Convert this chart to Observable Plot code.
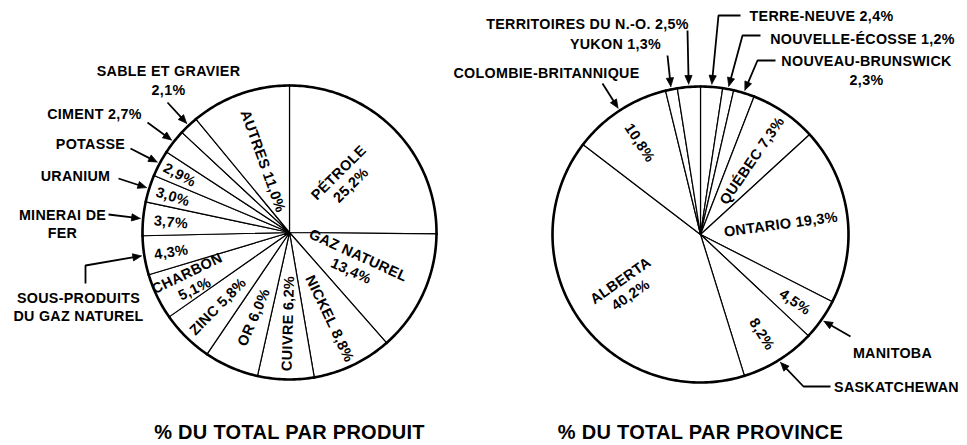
<!DOCTYPE html>
<html>
<head>
<meta charset="utf-8">
<script src="https://cdn.jsdelivr.net/npm/d3@7"></script>
<script src="https://cdn.jsdelivr.net/npm/@observablehq/plot@0.6"></script>
<style>
  html, body { margin: 0; padding: 0; background: #fff; }
</style>
</head>
<body>
<div id="chart"></div>
<script>
// ---------------- DATA ----------------
const produits = ["PÉTROLE", "GAZ NATUREL", "NICKEL", "CUIVRE", "OR", "ZINC", "CHARBON",
  "SOUS-PRODUITS DU GAZ NATUREL", "MINERAI DE FER", "URANIUM", "POTASSE", "CIMENT",
  "SABLE ET GRAVIER", "AUTRES"];
const produitValues = [25.2, 13.4, 8.8, 6.2, 6.0, 5.8, 5.1, 4.3, 3.7, 3.0, 2.9, 2.7, 2.1, 11.0];

const provinces = ["TERRE-NEUVE", "NOUVELLE-ÉCOSSE", "NOUVEAU-BRUNSWICK", "QUÉBEC", "ONTARIO",
  "MANITOBA", "SASKATCHEWAN", "ALBERTA", "COLOMBIE-BRITANNIQUE", "YUKON", "TERRITOIRES DU N.-O."];
const provinceValues = [2.4, 1.2, 2.3, 7.3, 19.3, 4.5, 8.2, 40.2, 10.8, 1.3, 2.5];

const titles = ["% DU TOTAL PAR PRODUIT", "% DU TOTAL PAR PROVINCE"];

// ---------------- LAYOUT ----------------
const W = 967, H = 445;
const pies = [
  {key: "produit", cx: 289, cy: 232, R: 147, names: produits, values: produitValues, title: titles[0]},
  {key: "province", cx: 700, cy: 234, R: 148, names: provinces, values: provinceValues, title: titles[1]}
];

// label templates: {v} -> formatted value; inner r = radial distance of label
const labelLayout = {
  produit: {
    "PÉTROLE": {inner: "PÉTROLE\n{v}", r: 77},
    "GAZ NATUREL": {inner: "GAZ NATUREL\n{v}", r: 72},
    "NICKEL": {inner: "NICKEL {v}", r: 95},
    "CUIVRE": {inner: "CUIVRE {v}", r: 91},
    "OR": {inner: "OR {v}", r: 92},
    "ZINC": {inner: "ZINC {v}", r: 103},
    "CHARBON": {inner: "CHARBON\n{v}", r: 110},
    "SOUS-PRODUITS DU GAZ NATUREL": {inner: "{v}", r: 120, outer: "SOUS-PRODUITS\nDU GAZ NATUREL", at: [78, 305.5], via: [[85, 283], [85, 265]]},
    "MINERAI DE FER": {inner: "{v}", r: 119, outer: "MINERAI DE\nFER", at: [62, 222.5], via: [[108, 214]]},
    "URANIUM": {inner: "{v}", r: 122, outer: "URANIUM", at: [75, 175], via: [[118, 178]]},
    "POTASSE": {inner: "{v}", r: 124, outer: "POTASSE", at: [90, 143], via: [[130, 148]]},
    "CIMENT": {outer: "CIMENT {v}", at: [94, 113], via: [[147, 122]]},
    "SABLE ET GRAVIER": {outer: "SABLE ET GRAVIER\n{v}", at: [168, 79], via: [[167, 102]]},
    "AUTRES": {inner: "AUTRES {v}", r: 76}
  },
  province: {
    "TERRE-NEUVE": {outer: "TERRE-NEUVE {v}", at: [821, 15], via: [[740, 15], [718, 15]]},
    "NOUVELLE-ÉCOSSE": {outer: "NOUVELLE-ÉCOSSE {v}", at: [862, 38], via: [[760, 35], [742, 35]]},
    "NOUVEAU-BRUNSWICK": {outer: "NOUVEAU-BRUNSWICK\n{v}", at: [866, 69], via: [[775, 60], [757, 60]]},
    "QUÉBEC": {inner: "QUÉBEC {v}", r: 90},
    "ONTARIO": {inner: "ONTARIO {v}", r: 81},
    "MANITOBA": {inner: "{v}", r: 116, outer: "MANITOBA", at: [892, 352], via: [[850, 336]]},
    "SASKATCHEWAN": {inner: "{v}", r: 117, outer: "SASKATCHEWAN", at: [896, 386], via: [[830, 386], [803, 386]]},
    "ALBERTA": {inner: "ALBERTA\n{v}", r: 92},
    "COLOMBIE-BRITANNIQUE": {inner: "{v}", r: 110, outer: "COLOMBIE-BRITANNIQUE", at: [546, 72], via: [[602, 83]]},
    "YUKON": {outer: "YUKON {v}", at: [615, 43], via: [[667, 55]]},
    "TERRITOIRES DU N.-O.": {outer: "TERRITOIRES DU N.-O. {v}", at: [587, 23], via: [[687, 30]]}
  }
};

// ---------------- GEOMETRY FROM DATA ----------------
const fmt = v => v.toFixed(1).replace(".", ",") + "%";
const rad = a => a * Math.PI / 180;
const pt = (p, a, r) => [p.cx + r * Math.sin(rad(a)), p.cy - r * Math.cos(rad(a))];

const slicePts = [], rimPts = [], inner = [], outer = [], connPts = [], headPts = [];

pies.forEach(p => {
  const total = d3.sum(p.values);
  let acc = 0;
  p.names.forEach((name, i) => {
    const a0 = acc / total * 360;
    acc += p.values[i];
    const a1 = acc / total * 360;
    const mid = (a0 + a1) / 2;
    const id = p.key + ":" + name;
    // slice polygon
    const [cx, cy] = [p.cx, p.cy];
    slicePts.push({id, x: cx, y: cy});
    const n = Math.max(2, Math.ceil(a1 - a0));
    for (let k = 0; k <= n; k++) {
      const [x, y] = pt(p, a0 + (a1 - a0) * k / n, p.R);
      slicePts.push({id, x, y});
      rimPts.push({id, x, y});
    }
    slicePts.push({id, x: cx, y: cy});

    const L = labelLayout[p.key][name] || {};
    const v = fmt(p.values[i]);
    if (L.inner) {
      const [x, y] = pt(p, mid, L.r);
      inner.push({x, y, text: L.inner.replace("{v}", v), rotate: mid < 180 ? mid - 90 : mid - 270});
    }
    if (L.outer) {
      outer.push({x: L.at[0], y: L.at[1], text: L.outer.replace("{v}", v)});
      const tip = pt(p, mid, p.R + 3);
      const last = L.via[L.via.length - 1];
      let dx = tip[0] - last[0], dy = tip[1] - last[1];
      const len = Math.hypot(dx, dy); dx /= len; dy /= len;
      const hl = 8.5, hw = 3.6;
      const base = [tip[0] - dx * hl, tip[1] - dy * hl];
      L.via.forEach(([x, y]) => connPts.push({id, x, y}));
      connPts.push({id, x: tip[0] - dx * hl * 0.7, y: tip[1] - dy * hl * 0.7});
      headPts.push({id, x: tip[0], y: tip[1]});
      headPts.push({id, x: base[0] - dy * hw, y: base[1] + dx * hw});
      headPts.push({id, x: base[0] + dy * hw, y: base[1] - dx * hw});
      headPts.push({id, x: tip[0], y: tip[1]});
    }
  });
});

const titleData = pies.map(p => ({x: p.cx, y: 432, text: p.title}));

const chart = Plot.plot({
  width: W,
  height: H,
  margin: 0,
  x: {domain: [0, W], range: [0, W], axis: null},
  y: {domain: [0, H], range: [0, H], axis: null},
  style: "background:#fff;color:#000;font-family:'Liberation Sans',Arial,Helvetica,sans-serif;letter-spacing:0.3px;",
  marks: [
    Plot.line(slicePts, {x: "x", y: "y", z: "id", fill: "white", stroke: "black", strokeWidth: 1.2, strokeLinejoin: "miter"}),
    Plot.line(rimPts, {x: "x", y: "y", z: "id", stroke: "black", strokeWidth: 2.6}),
    Plot.text(inner, {x: "x", y: "y", text: "text", rotate: "rotate", fontSize: 14.5, fontWeight: "bold", lineHeight: 1.2, fill: "black"}),
    Plot.text(outer, {x: "x", y: "y", text: "text", fontSize: 14.3, fontWeight: "bold", lineHeight: 1.28, fill: "black"}),
    Plot.line(connPts, {x: "x", y: "y", z: "id", stroke: "black", strokeWidth: 1.8, strokeLinejoin: "miter", strokeLinecap: "butt"}),
    Plot.line(headPts, {x: "x", y: "y", z: "id", fill: "black", stroke: "black", strokeWidth: 0.8}),
    Plot.text(titleData, {x: "x", y: "y", text: "text", fontSize: 20, fontWeight: "bold", fill: "black"})
  ]
});
document.getElementById("chart").append(chart);
</script>
</body>
</html>
